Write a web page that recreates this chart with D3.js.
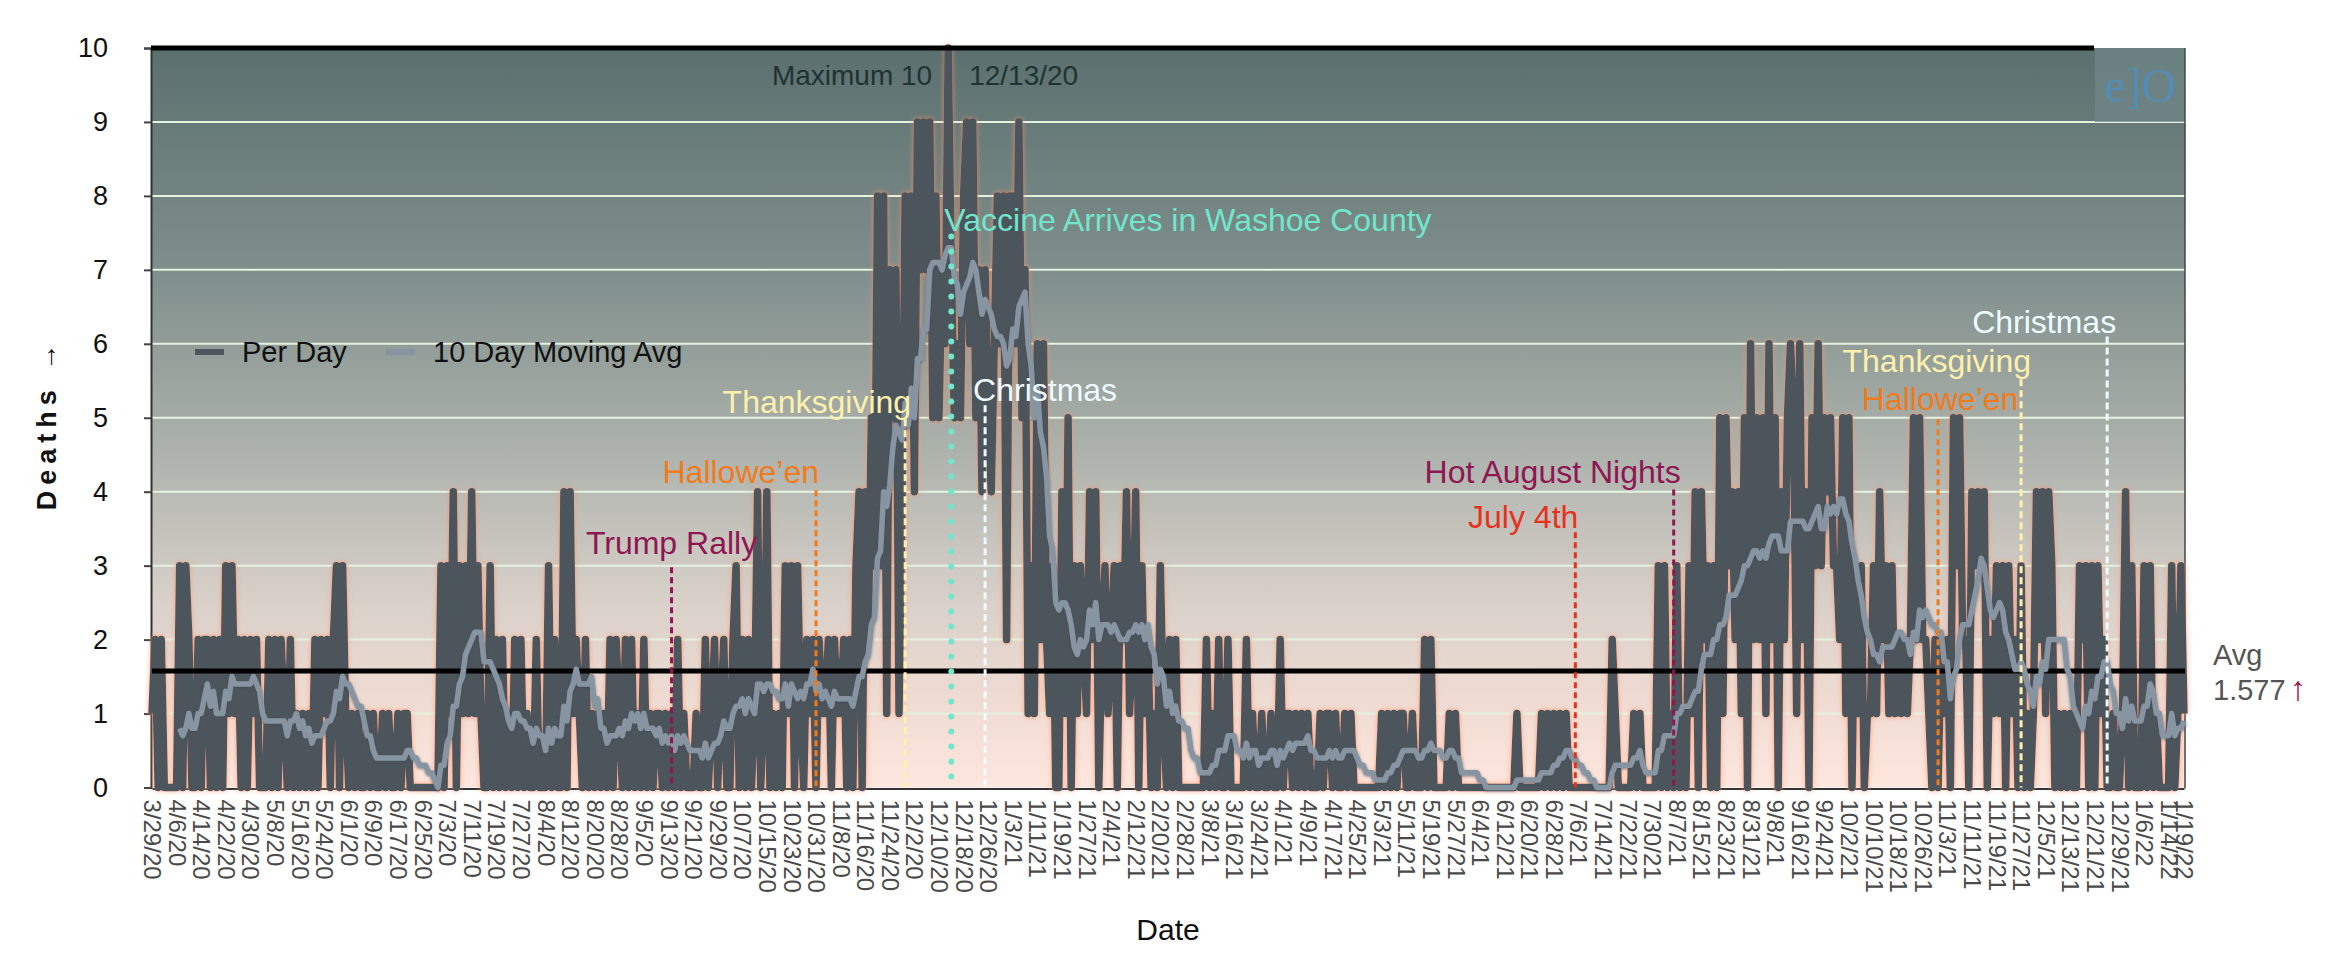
<!DOCTYPE html>
<html>
<head>
<meta charset="utf-8">
<script src="https://cdn.jsdelivr.net/npm/d3@7"></script>
<style>
  body { margin: 0; background: #fff; }
  text { font-family: "Liberation Sans", Arial, Helvetica, sans-serif; }
</style>
</head>
<body>
<div class="chart"></div>
<script>
// ---- data ----
const startDate = "2020-03-29";
const endDate = "2022-01-19";
const tickEveryDays = 8;
const avgValue = 1.577;
const maWindow = 10;

// deaths per day, one value per day from 3/29/20, ten days per group
const perDay = [
  1,2,0,2,0,0,0,0,0,3,  0,3,2,0,0,2,0,2,2,0,  2,0,2,0,3,1,3,1,2,0,
  2,0,2,1,2,0,0,0,2,0,  2,0,2,1,0,2,0,1,0,1,  0,1,0,2,0,2,1,2,0,2,
  3,0,3,1,0,1,0,1,0,0,  1,0,1,0,0,1,0,1,0,0,  1,0,1,1,0,0,0,0,0,0,
  0,0,0,0,3,0,3,1,4,0,  3,1,3,1,4,1,3,1,0,0,  3,0,2,0,2,0,1,0,2,0,
  2,0,1,0,0,2,0,0,0,3,  0,2,0,0,4,0,4,1,2,1,  0,2,0,1,0,1,0,1,0,2,
  0,2,1,0,2,0,2,0,1,0,  2,0,1,0,1,1,0,1,0,1,  0,2,0,1,0,0,0,1,0,0,
  2,0,1,2,0,1,2,0,0,2,  3,0,2,0,2,0,1,4,0,1,  4,0,1,0,1,0,3,1,3,0,
  3,1,0,2,1,2,0,2,1,1,  2,0,2,1,1,2,0,2,0,3,  4,0,4,2,5,3,8,3,8,1,
  7,5,7,1,4,8,5,8,4,9,  7,9,7,9,5,8,5,7,6,10, 7,5,6,5,8,9,6,9,5,7,
  4,7,5,4,6,8,6,8,2,8,  8,6,9,5,7,1,3,1,6,2,  6,2,1,3,0,0,4,1,5,0,
  3,1,3,2,1,4,2,4,0,2,  3,1,2,3,0,3,2,4,1,2,  4,0,3,1,2,0,1,0,3,1,
  0,2,0,2,0,0,0,0,0,0,  0,0,0,2,0,1,0,2,0,0,  2,0,0,0,0,0,2,0,1,0,
  0,1,0,0,1,0,0,2,0,1,  1,0,1,0,1,0,1,0,0,0,  1,0,1,1,0,1,0,0,1,0,
  1,0,0,0,0,0,0,0,0,0,  1,0,1,0,1,0,1,1,0,0,  1,0,0,0,2,0,2,0,0,0,
  0,0,1,0,1,0,0,0,0,0,  0,0,0,0,0,0,0,0,0,0,  0,0,0,0,1,0,0,0,0,0,
  0,0,1,0,1,0,1,0,1,0,  1,0,0,0,0,0,0,0,0,0,  0,0,0,0,0,2,1,0,0,0,
  0,0,1,0,1,0,0,0,0,0,  3,0,3,0,1,0,3,0,1,0,  3,1,4,0,4,2,3,0,3,0,
  5,1,5,3,4,2,4,1,5,0,  6,2,5,2,5,1,6,2,5,0,  4,2,5,6,5,1,6,2,4,0,
  5,3,6,3,5,4,5,3,3,2,  5,1,5,0,3,1,3,0,1,1,  3,1,4,2,3,1,3,1,2,1,
  2,1,2,5,2,5,2,2,1,0,  2,0,2,1,2,0,5,3,5,2,  2,0,4,3,4,3,4,0,2,1,
  3,1,3,0,3,1,2,0,3,0,  1,0,1,4,2,4,1,4,3,0,  1,0,1,0,1,0,0,3,2,3,
  0,3,0,3,1,2,0,0,1,0,  0,1,4,0,3,0,0,0,3,0,  3,0,1,0,0,0,0,3,0,1,
  3,1
];

const seriesNames = ["Per Day", "10 Day Moving Avg"];

const eventNames = ["Trump Rally", "Hallowe\u2019en", "Thanksgiving", "Vaccine Arrives in Washoe County",
  "Christmas", "July 4th", "Hot August Nights", "Hallowe\u2019en", "Thanksgiving", "Christmas"];
const eventDates = ["2020-09-14", "2020-10-31", "2020-11-29", "2020-12-14",
  "2020-12-25", "2021-07-05", "2021-08-06", "2021-10-31", "2021-11-27", "2021-12-25"];

// ---- layout and styles ----
const W = 2334, H = 976;
const plot = { left: 152, right: 2184, top: 48, bottom: 787.5 };
const colors = {
  perDay: "#4e555c", ma: "#8794a2", rally: "#8e1652", halloween: "#f27a1a",
  thanks: "#fdf1ad", vaccine: "#72e6cc", xmas: "#eefcff", july: "#e8311d"
};
// label level (in deaths), anchor, x nudge, line top (in deaths), colour, dash
const eventStyle = [
  { ly: 3.16, anchor: "middle", dx: 0,  top: 2.98, c: colors.rally,     dash: "6,4" },
  { ly: 4.12, anchor: "end",    dx: 3,  top: 4.02, c: colors.halloween, dash: "6,4" },
  { ly: 5.07, anchor: "end",    dx: 6,  top: 4.98, c: colors.thanks,    dash: "7,4" },
  { ly: 7.53, anchor: "start",  dx: -7, top: 7.45, c: colors.vaccine,   dash: "0,15", dots: true },
  { ly: 5.23, anchor: "start",  dx: -12,top: 5.17, c: colors.xmas,      dash: "7,4" },
  { ly: 3.51, anchor: "end",    dx: 3,  top: 3.45, c: colors.july,      dash: "6,4" },
  { ly: 4.12, anchor: "end",    dx: 7,  top: 4.03, c: colors.rally,     dash: "6,4" },
  { ly: 5.10, anchor: "middle", dx: 2,  top: 4.98, c: colors.halloween, dash: "6,4" },
  { ly: 5.62, anchor: "end",    dx: 10, top: 5.52, c: colors.thanks,    dash: "7,4" },
  { ly: 6.15, anchor: "end",    dx: 9,  top: 6.10, c: colors.xmas,      dash: "7,4" }
];

function init() {
  const parse = d3.utcParse("%Y-%m-%d");
  const fmt = d3.utcFormat("%-m/%-d/%y");
  const t0 = parse(startDate), t1 = parse(endDate);

  const days = perDay.map((v, i) => ({ date: d3.utcDay.offset(t0, i), value: v }));
  // trailing 10 day average, first value once 10 days exist
  const ma = days.slice(maWindow - 1).map((d, k) => ({
    date: d.date,
    value: d3.mean(perDay.slice(k, k + maWindow))
  }));

  const xScale = d3.scaleUtc().domain([t0, t1]).range([plot.left, plot.right]);
  const yScale = d3.scaleLinear().domain([0, 10]).range([plot.bottom, plot.top]);

  const svg = d3.select(".chart").append("svg")
    .attr("width", W).attr("height", H);

  const defs = svg.append("defs");
  const grad = defs.append("linearGradient").attr("id", "bg")
    .attr("gradientUnits", "userSpaceOnUse")
    .attr("x1", 0).attr("x2", 0).attr("y1", plot.top).attr("y2", plot.bottom);
  [[0, "#5a706f"], [0.3, "#7f8e8b"], [0.55, "#aeb3ad"], [0.75, "#d9d1ca"], [0.9, "#f2ddd4"], [1, "#fde6dd"]]
    .forEach(s => grad.append("stop").attr("offset", s[0]).attr("stop-color", s[1]));

  const glow = defs.append("filter").attr("id", "glow")
    .attr("filterUnits", "userSpaceOnUse")
    .attr("x", 0).attr("y", 0).attr("width", W).attr("height", H);
  glow.append("feGaussianBlur").attr("in", "SourceAlpha").attr("stdDeviation", 2.5).attr("result", "b");
  glow.append("feFlood").attr("flood-color", "#ff9164").attr("flood-opacity", 0.75);
  glow.append("feComposite").attr("in2", "b").attr("operator", "in").attr("result", "g");
  const gm = glow.append("feMerge");
  gm.append("feMergeNode").attr("in", "g");
  gm.append("feMergeNode").attr("in", "SourceGraphic");

  const shadow = defs.append("filter").attr("id", "shadow")
    .attr("filterUnits", "userSpaceOnUse")
    .attr("x", 0).attr("y", 0).attr("width", W).attr("height", H);
  shadow.append("feDropShadow").attr("dx", 0).attr("dy", 1).attr("stdDeviation", 1.5)
    .attr("flood-color", "#3a4550").attr("flood-opacity", 0.6);

  // background
  svg.append("rect")
    .attr("x", plot.left).attr("y", plot.top)
    .attr("width", plot.right - plot.left + 1).attr("height", plot.bottom - plot.top)
    .attr("fill", "url(#bg)");

  // grid
  svg.append("g").selectAll("line")
    .data(d3.range(1, 10))
    .join("line")
    .attr("x1", plot.left).attr("x2", plot.right + 1)
    .attr("y1", d => yScale(d)).attr("y2", d => yScale(d))
    .attr("stroke", "#e4f3e0").attr("stroke-width", 2);

  // logo box
  svg.append("rect").attr("x", 2095).attr("y", plot.top).attr("width", plot.right + 1 - 2095)
    .attr("height", yScale(9) - plot.top).attr("fill", "#6f8584").attr("opacity", 0.8);
  svg.append("text").attr("x", 2140).attr("y", 102).attr("text-anchor", "middle")
    .style("font-family", "'Liberation Serif', 'DejaVu Serif', serif")
    .attr("font-size", 48).attr("fill", "#4f8fbd").attr("opacity", 0.85).text("e]O");

  // axes
  const yAxis = svg.append("g").attr("class", "axis y-axis")
    .attr("transform", `translate(${plot.left - 1},0)`)
    .call(d3.axisLeft(yScale).ticks(10).tickSize(7).tickPadding(36));
  yAxis.select(".domain").attr("stroke", "#333").attr("stroke-width", 2);
  yAxis.selectAll(".tick line").attr("stroke", "#444").attr("stroke-width", 2);
  yAxis.selectAll("text").attr("font-size", 27).attr("fill", "#111")
    .style("font-family", "'Liberation Sans', Arial, sans-serif");

  const tickDates = d3.utcDay.range(t0, d3.utcDay.offset(t1, 1), tickEveryDays)
    .filter(d => d <= t1);
  tickDates.push(t1);
  const xAxis = svg.append("g").attr("class", "axis x-axis")
    .attr("transform", `translate(0,${plot.bottom + 1})`)
    .call(d3.axisBottom(xScale).tickValues(tickDates).tickFormat(fmt).tickSize(0));
  xAxis.select(".domain").attr("stroke", "#333").attr("stroke-width", 2);
  xAxis.selectAll("text")
    .attr("font-size", 24).attr("fill", "#4a4a4a")
    .style("font-family", "'Liberation Sans', Arial, sans-serif")
    .attr("text-anchor", "start")
    .attr("transform", "translate(0,11) rotate(90)")
    .attr("x", 0).attr("y", 0).attr("dy", "0.35em");

  // right frame
  svg.append("line").attr("x1", plot.right + 1).attr("x2", plot.right + 1)
    .attr("y1", plot.top).attr("y2", plot.bottom + 1)
    .attr("stroke", "#444").attr("stroke-width", 1.5);

  // per day line
  const line = d3.line().x(d => xScale(d.date)).y(d => yScale(d.value));
  svg.append("path").datum(days)
    .attr("d", line)
    .attr("fill", "none").attr("stroke", colors.perDay)
    .attr("stroke-width", 7.5).attr("stroke-linejoin", "round")
    .attr("filter", "url(#glow)");

  // average line
  svg.append("line")
    .attr("x1", plot.left).attr("x2", plot.right + 1)
    .attr("y1", yScale(avgValue)).attr("y2", yScale(avgValue))
    .attr("stroke", "#000").attr("stroke-width", 5);

  // maximum line across the top
  const maxVal = d3.max(perDay);
  const maxDay = days[perDay.indexOf(maxVal)];
  svg.append("line")
    .attr("x1", plot.left - 1).attr("x2", 2094)
    .attr("y1", yScale(maxVal)).attr("y2", yScale(maxVal))
    .attr("stroke", "#000").attr("stroke-width", 5);
  svg.append("text").attr("x", xScale(maxDay.date) - 16).attr("y", 85)
    .attr("text-anchor", "end").attr("font-size", 28).attr("fill", "#203232")
    .text(`Maximum ${maxVal}`);
  svg.append("text").attr("x", xScale(maxDay.date) + 21).attr("y", 85)
    .attr("font-size", 28).attr("fill", "#203232")
    .text(fmt(maxDay.date));

  // moving average
  svg.append("path").datum(ma)
    .attr("d", line)
    .attr("fill", "none").attr("stroke", colors.ma)
    .attr("stroke-width", 5.5).attr("stroke-linejoin", "round")
    .attr("filter", "url(#shadow)");

  // events
  const ev = svg.append("g").selectAll("g")
    .data(eventNames.map((n, i) => ({ name: n, date: parse(eventDates[i]), s: eventStyle[i] })))
    .join("g");
  ev.append("line")
    .attr("x1", d => xScale(d.date)).attr("x2", d => xScale(d.date))
    .attr("y1", d => yScale(d.s.top)).attr("y2", plot.bottom)
    .attr("stroke", d => d.s.c)
    .attr("stroke-width", d => d.s.dots ? 6 : 3)
    .attr("stroke-linecap", d => d.s.dots ? "round" : "butt")
    .attr("stroke-dasharray", d => d.s.dash);
  ev.append("text")
    .attr("x", d => xScale(d.date) + d.s.dx)
    .attr("y", d => yScale(d.s.ly))
    .attr("text-anchor", d => d.s.anchor)
    .attr("font-size", 32)
    .attr("fill", d => d.s.c)
    .text(d => d.name);

  // legend
  const legend = svg.append("g").attr("transform", "translate(195,352)");
  [[0, colors.perDay, seriesNames[0]], [191, colors.ma, seriesNames[1]]].forEach(l => {
    legend.append("line").attr("x1", l[0]).attr("x2", l[0] + 29).attr("y1", 0).attr("y2", 0)
      .attr("stroke", l[1]).attr("stroke-width", 6);
    legend.append("text").attr("x", l[0] + 47).attr("y", 10)
      .attr("font-size", 29).attr("fill", "#111").text(l[2]);
  });

  // average label
  const avgLabel = svg.append("g").attr("font-size", 29).attr("fill", "#555");
  avgLabel.append("text").attr("x", 2213).attr("y", 665).text("Avg");
  const avgNum = avgLabel.append("text").attr("x", 2213).attr("y", 700);
  avgNum.append("tspan").text(avgValue.toFixed(3));
  avgNum.append("tspan").attr("fill", "#9b1b5a").attr("dx", 4).attr("font-size", 34).text("\u2191");

  // axis titles
  svg.append("text").attr("x", (plot.left + plot.right) / 2).attr("y", 940)
    .attr("text-anchor", "middle").attr("font-size", 30).attr("fill", "#111").text("Date");
  svg.append("text").attr("transform", "translate(56,424) rotate(-90)")
    .attr("text-anchor", "middle").attr("font-size", 27).attr("font-weight", "bold")
    .attr("letter-spacing", 6).attr("fill", "#111").text("Deaths \u2192");
}

init();
</script>
</body>
</html>
